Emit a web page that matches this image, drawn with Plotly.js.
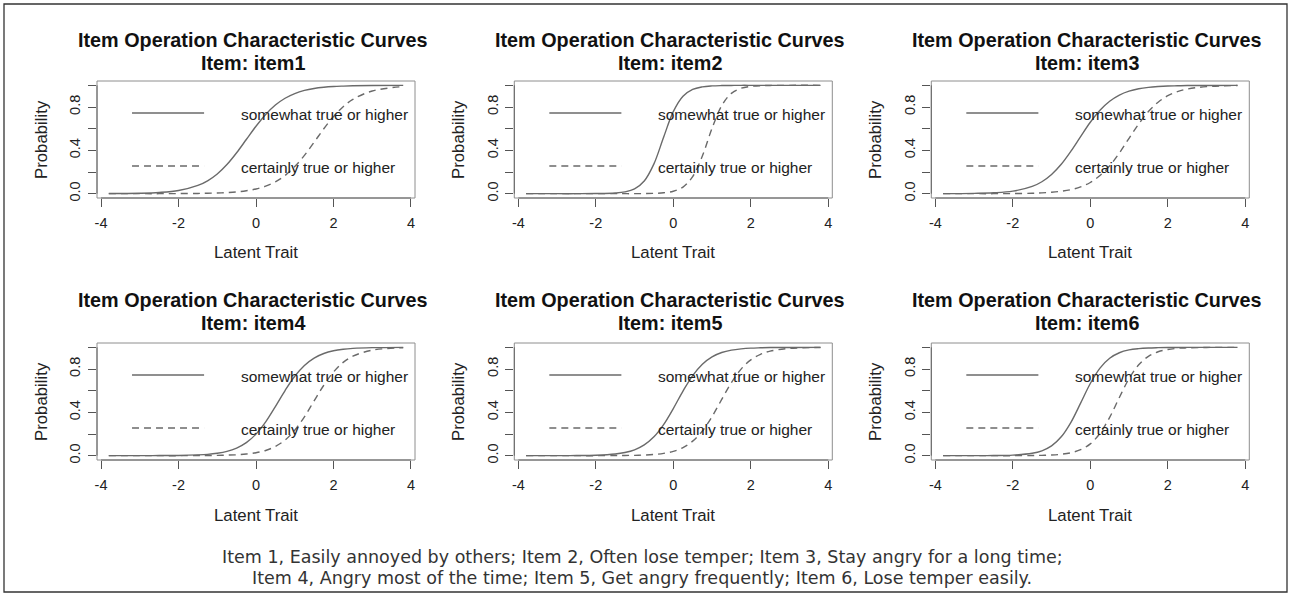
<!DOCTYPE html>
<html>
<head>
<meta charset="utf-8">
<script src="https://cdn.plot.ly/plotly-3.0.1.min.js"></script>
<style>
html,body{margin:0;padding:0;background:#fff;}
#chart{width:1290px;height:596px;}
</style>
</head>
<body>
<div id="chart"></div>
<script>
// ---------------- data ----------------
const theta = [-3.8,-3,-2.5,-2,-1.5,-1.25,-1,-0.75,-0.5,-0.25,0,0.25,0.5,0.75,1,1.25,1.5,1.75,2,2.25,2.5,3,3.8];

const item1Somewhat  = [0.001,0.004,0.011,0.029,0.076,0.119,0.182,0.269,0.378,0.500,0.622,0.731,0.818,0.881,0.924,0.953,0.971,0.982,0.989,0.993,0.996,0.998,1.000];
const item1Certainly = [0.000,0.000,0.000,0.001,0.002,0.004,0.006,0.010,0.016,0.027,0.043,0.069,0.109,0.168,0.250,0.354,0.475,0.599,0.711,0.802,0.870,0.948,0.989];

const item2Somewhat  = [0.000,0.000,0.000,0.001,0.006,0.016,0.044,0.117,0.275,0.521,0.757,0.899,0.962,0.986,0.995,0.998,0.999,1.000,1.000,1.000,1.000,1.000,1.000];
const item2Certainly = [0.000,0.000,0.000,0.000,0.000,0.000,0.000,0.001,0.003,0.008,0.022,0.061,0.157,0.348,0.603,0.813,0.926,0.973,0.990,0.997,0.999,1.000,1.000];

const item3Somewhat  = [0.000,0.003,0.008,0.023,0.067,0.110,0.177,0.271,0.392,0.527,0.659,0.770,0.853,0.910,0.946,0.968,0.981,0.989,0.994,0.996,0.998,0.999,1.000];
const item3Certainly = [0.000,0.000,0.000,0.001,0.004,0.007,0.013,0.022,0.037,0.062,0.103,0.167,0.257,0.375,0.511,0.643,0.758,0.844,0.904,0.942,0.966,0.988,0.998];

const item4Somewhat  = [0.000,0.000,0.001,0.002,0.007,0.012,0.022,0.039,0.070,0.120,0.199,0.312,0.453,0.601,0.733,0.833,0.901,0.943,0.968,0.982,0.990,0.997,1.000];
const item4Certainly = [0.000,0.000,0.000,0.000,0.001,0.001,0.003,0.005,0.008,0.015,0.027,0.048,0.085,0.144,0.235,0.359,0.506,0.650,0.772,0.861,0.918,0.974,0.996];

const item5Somewhat  = [0.000,0.000,0.001,0.004,0.015,0.029,0.054,0.099,0.174,0.287,0.435,0.596,0.739,0.844,0.912,0.952,0.974,0.986,0.993,0.996,0.998,0.999,1.000];
const item5Certainly = [0.000,0.000,0.000,0.000,0.001,0.002,0.003,0.006,0.011,0.021,0.040,0.074,0.134,0.228,0.361,0.519,0.675,0.799,0.884,0.936,0.965,0.990,0.999];

const item6Somewhat  = [0.000,0.000,0.001,0.005,0.022,0.045,0.090,0.174,0.308,0.485,0.666,0.808,0.899,0.950,0.976,0.988,0.994,0.997,0.999,0.999,1.000,1.000,1.000];
const item6Certainly = [0.000,0.000,0.000,0.000,0.001,0.003,0.006,0.013,0.027,0.055,0.109,0.206,0.354,0.537,0.711,0.839,0.917,0.959,0.980,0.991,0.995,0.999,1.000];

const itemNames = ['item1','item2','item3','item4','item5','item6'];
const mainTitle = 'Item Operation Characteristic Curves';
const legendLabels = ['somewhat true or higher','certainly true or higher'];
const xTitle = 'Latent Trait';
const yTitle = 'Probability';
const xTickVals = [-4,-2,0,2,4];
const xTickText = ['-4','-2','0','2','4'];
const yTickVals = [0,0.2,0.4,0.6,0.8,1.0];
const yTickText = ['0.0','','0.4','','0.8',''];
const captionLines = [
  'Item 1, Easily annoyed by others; Item 2, Often lose temper; Item 3, Stay angry for a long time;',
  'Item 4, Angry most of the time; Item 5, Get angry frequently; Item 6, Lose temper easily.'
];

const somewhatSeries  = [item1Somewhat, item2Somewhat, item3Somewhat, item4Somewhat, item5Somewhat, item6Somewhat];
const certainlySeries = [item1Certainly, item2Certainly, item3Certainly, item4Certainly, item5Certainly, item6Certainly];

// ---------------- layout geometry ----------------
const W = 1290, H = 596;
const colLeft = [97, 514.3, 931.3];
const boxW = 318;
const rowTop = [81, 343];
const boxH = 117;
const titleY = [40, 300];
const xTitleY = [253, 515];
const FONT = 'Liberation Sans, Arial, Helvetica, sans-serif';
const TXT = '#222';
const CURVE = '#6a6a6a';
const DASH = '7px,5px';

const traces = [];
const layout = {
  width: W, height: H,
  margin: {l:0, r:0, t:0, b:0},
  paper_bgcolor: '#fff', plot_bgcolor: '#fff',
  showlegend: false,
  font: {family: FONT, color: TXT},
  shapes: [], annotations: []
};

for (let i = 0; i < 6; i++) {
  const row = Math.floor(i / 3), col = i % 3;
  const sfx = i === 0 ? '' : String(i + 1);
  const xa = 'x' + sfx, ya = 'y' + sfx;
  const x0 = colLeft[col], y0 = rowTop[row];

  layout['xaxis' + sfx] = {
    domain: [x0 / W, (x0 + boxW) / W],
    anchor: ya,
    range: [-4.104, 4.104],
    tickmode: 'array', tickvals: xTickVals, ticktext: xTickText,
    ticks: 'outside', ticklen: 8, tickwidth: 1, tickcolor: '#555',
    ticklabelstandoff: 4,
    tickfont: {family: FONT, size: 14.5, color: TXT},
    showline: false, showgrid: false, zeroline: false, fixedrange: true
  };
  layout['yaxis' + sfx] = {
    domain: [1 - (y0 + boxH) / H, 1 - y0 / H],
    anchor: xa,
    range: [-0.04, 1.04],
    tickmode: 'array', tickvals: yTickVals, ticktext: yTickText,
    ticks: 'outside', ticklen: 8, tickwidth: 1, tickcolor: '#555',
    tickangle: -90,
    ticklabelstandoff: 2,
    tickfont: {family: FONT, size: 14.5, color: TXT},
    showline: false, showgrid: false, zeroline: false, fixedrange: true
  };

  traces.push({
    type: 'scatter', mode: 'lines', x: theta, y: somewhatSeries[i],
    xaxis: xa, yaxis: ya, name: legendLabels[0],
    line: {color: CURVE, width: 1.4, shape: 'spline', smoothing: 1},
    hoverinfo: 'skip'
  });
  traces.push({
    type: 'scatter', mode: 'lines', x: theta, y: certainlySeries[i],
    xaxis: xa, yaxis: ya, name: legendLabels[1],
    line: {color: CURVE, width: 1.4, dash: DASH, shape: 'spline', smoothing: 1},
    hoverinfo: 'skip'
  });

  // plot box (R bty="o")
  layout.shapes.push({type:'rect', xref: xa + ' domain', yref: ya + ' domain',
    x0: 0, x1: 1, y0: 0, y1: 1, line: {color: '#8e8e8e', width: 1}, layer: 'above'});
  // R-style axis lines spanning first..last tick
  layout.shapes.push({type:'line', xref: xa, yref: ya + ' domain',
    x0: -4, x1: 4, y0: 0, y1: 0, line: {color: '#666', width: 1}});
  layout.shapes.push({type:'line', xref: xa + ' domain', yref: ya,
    x0: 0, x1: 0, y0: 0, y1: 1, line: {color: '#666', width: 1}});

  // legend (bty="n") drawn inside the plot
  layout.shapes.push({type:'line', xref: xa, yref: ya,
    x0: -3.2, x1: -1.34, y0: 0.744, y1: 0.744, line: {color: CURVE, width: 1.4}});
  layout.shapes.push({type:'line', xref: xa, yref: ya,
    x0: -3.2, x1: -1.34, y0: 0.256, y1: 0.256, line: {color: CURVE, width: 1.4, dash: DASH}});
  layout.annotations.push({xref: xa, yref: ya, x: -0.45, y: 0.73, xanchor: 'left', yanchor: 'middle',
    text: legendLabels[0], showarrow: false, font: {family: FONT, size: 15.5, color: TXT}});
  layout.annotations.push({xref: xa, yref: ya, x: -0.45, y: 0.245, xanchor: 'left', yanchor: 'middle',
    text: legendLabels[1], showarrow: false, font: {family: FONT, size: 15.5, color: TXT}});

  // titles
  const cx = (x0 + boxW / 2 - 3) / W;
  layout.annotations.push({xref:'paper', yref:'paper', x: cx, y: 1 - titleY[row] / H,
    xanchor:'center', yanchor:'middle', showarrow:false,
    text: '<b>' + mainTitle + '</b>', font: {family: FONT, size: 19.8, color: '#111'}});
  layout.annotations.push({xref:'paper', yref:'paper', x: cx, y: 1 - (titleY[row] + 23.3) / H,
    xanchor:'center', yanchor:'middle', showarrow:false,
    text: '<b>Item: ' + itemNames[i] + '</b>', font: {family: FONT, size: 19.8, color: '#111'}});

  // axis titles
  layout.annotations.push({xref:'paper', yref:'paper', x: (x0 + boxW / 2) / W, y: 1 - xTitleY[row] / H,
    xanchor:'center', yanchor:'middle', showarrow:false,
    text: xTitle, font: {family: FONT, size: 16.8, color: TXT}});
  layout.annotations.push({xref:'paper', yref:'paper', x: (41.5 + 417 * col) / W, y: 1 - (y0 + boxH / 2) / H,
    xanchor:'center', yanchor:'middle', showarrow:false, textangle: -90,
    text: yTitle, font: {family: FONT, size: 16.8, color: TXT}});
}

// caption
const capY = [557, 578];
captionLines.forEach((t, k) => {
  layout.annotations.push({xref:'paper', yref:'paper', x: 642 / W, y: 1 - capY[k] / H,
    xanchor:'center', yanchor:'middle', showarrow:false,
    text: t, font: {family: 'DejaVu Sans, Verdana, sans-serif', size: 17.5, color: '#333'}});
});

// outer frame
layout.shapes.push({type:'rect', xref:'paper', yref:'paper',
  x0: 4 / W, x1: 1287 / W, y0: 1 - 592 / H, y1: 1 - 4 / H,
  line: {color: '#333', width: 1.3}});

Plotly.newPlot('chart', traces, layout, {staticPlot: true, displayModeBar: false});
</script>
</body>
</html>
